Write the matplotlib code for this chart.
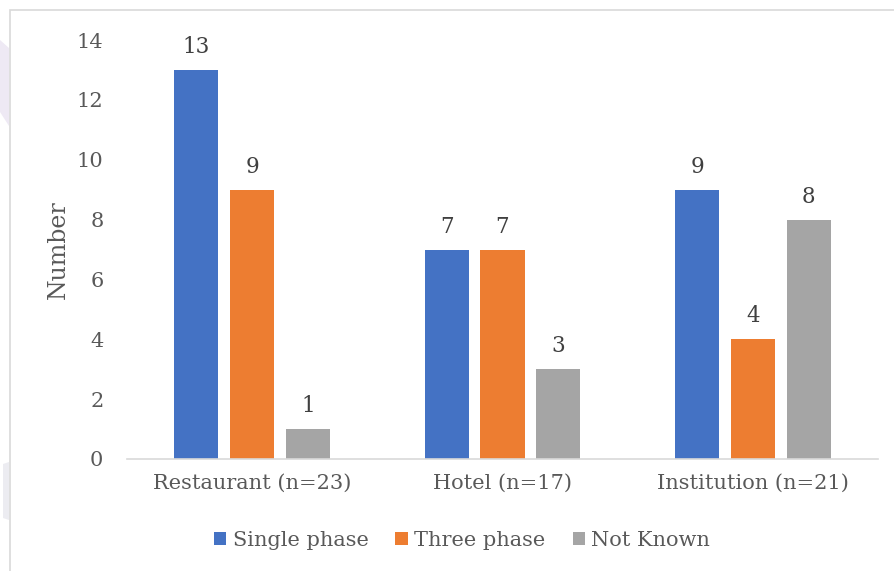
import matplotlib
matplotlib.use("Agg")
import matplotlib.pyplot as plt
from matplotlib.patches import Rectangle, Patch, Polygon
import numpy as np

categories = ["Restaurant (n=23)", "Hotel (n=17)", "Institution (n=21)"]
series_names = ["Single phase", "Three phase", "Not Known"]
single_phase = [13, 7, 9]
three_phase = [9, 7, 4]
not_known = [1, 3, 8]
y_ticks = [0, 2, 4, 6, 8, 10, 12, 14]

colors = ["#4472C4", "#ED7D31", "#A5A5A5"]
text_color = "#595959"
label_color = "#404040"

plt.rcParams["font.family"] = ["DejaVu Serif"]

W, H = 895, 571
fig = plt.figure(figsize=(W / 100, H / 100), dpi=100)
fig.patch.set_facecolor("white")

def fx(px):
    return px / W

def fy(py):
    return 1 - py / H

# faint page decoration at the left margin
fig.add_artist(Polygon([(fx(0), fy(40)), (fx(9), fy(48)), (fx(9), fy(126)),
                        (fx(0), fy(112))], closed=True, transform=fig.transFigure,
                       facecolor="#eee9f4", edgecolor="none"))
fig.add_artist(Polygon([(fx(3), fy(464)), (fx(9), fy(462)), (fx(9), fy(520)),
                        (fx(3), fy(518))], closed=True, transform=fig.transFigure,
                       facecolor="#ececf1", edgecolor="none"))

# chart frame
fig.add_artist(Rectangle((fx(10), -0.05), 1.2, fy(10) + 0.05,
                         transform=fig.transFigure, fill=False,
                         edgecolor="#d9d9d9", linewidth=1.2))

ax = fig.add_axes([fx(127), fy(459), 751 / W, 419 / H])

x = np.arange(len(categories))
width = 0.176
step = 0.2225
all_series = [single_phase, three_phase, not_known]
for i, (vals, name, c) in enumerate(zip(all_series, series_names, colors)):
    pos = x + (i - 1) * step
    bars = ax.bar(pos, vals, width, color=c, label=name)
    for b, v in zip(bars, vals):
        ax.text(b.get_x() + b.get_width() / 2, v + 0.40, str(v),
                ha="center", va="bottom", fontsize=15.5, color=label_color)

ax.set_xlim(-0.5, 2.5)
ax.set_ylim(0, 14)
ax.set_yticks(y_ticks)
ax.set_yticklabels([str(t) for t in y_ticks])
ax.set_xticks(x)
ax.set_xticklabels(categories)
ax.tick_params(axis="both", length=0, labelsize=15, colors=text_color)
ax.tick_params(axis="y", pad=17)
ax.tick_params(axis="x", pad=11)
for s in ["top", "right", "left"]:
    ax.spines[s].set_visible(False)
ax.spines["bottom"].set_color("#d9d9d9")
ax.spines["bottom"].set_linewidth(1.2)

# y-axis title
fig.text(fx(58), fy(250), "Number", rotation=90, ha="center", va="center",
         fontsize=17, color=text_color)

handles = [Patch(facecolor=c, edgecolor="none") for c in colors]
fig.legend(handles, series_names, loc="center", bbox_to_anchor=(fx(462), fy(540)),
           ncol=3, frameon=False, fontsize=15, labelcolor=text_color,
           handlelength=0.6, handleheight=0.6, handletextpad=0.3, columnspacing=1.3)

fig.savefig("out.png", dpi=100)
